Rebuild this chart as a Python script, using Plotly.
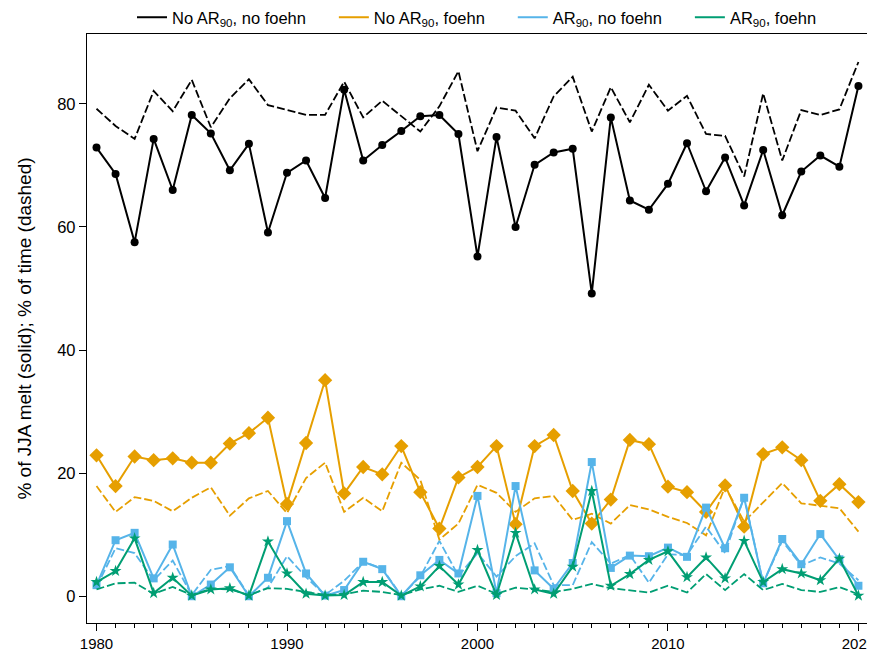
import plotly.graph_objs as go

# years on the x axis
years = list(range(1980, 2021))

# % of JJA melt (solid lines)
melt_noar_nofoehn = [72.9, 68.6, 57.5, 74.3, 66.0, 78.2, 75.2, 69.2, 73.5, 59.1,
                     68.8, 70.8, 64.7, 82.3, 70.8, 73.3, 75.6, 78.0, 78.2, 75.1,
                     55.2, 74.6, 60.0, 70.1, 72.1, 72.7, 49.2, 77.8, 64.3, 62.8,
                     67.0, 73.6, 65.8, 71.3, 63.5, 72.5, 61.9, 69.0, 71.6, 69.8,
                     82.9]
melt_noar_foehn = [22.9, 17.9, 22.7, 22.1, 22.4, 21.7, 21.7, 24.8, 26.5, 29.0,
                   15.0, 24.9, 35.1, 16.7, 21.0, 19.8, 24.4, 16.9, 11.0, 19.3,
                   21.0, 24.4, 11.7, 24.4, 26.2, 17.1, 11.8, 15.7, 25.4, 24.7,
                   17.8, 16.9, 13.7, 18.0, 11.3, 23.1, 24.2, 22.1, 15.5, 18.2,
                   15.3]
melt_ar_nofoehn = [1.8, 9.1, 10.3, 2.9, 8.4, 0.0, 1.9, 4.7, 0.0, 3.0,
                   12.2, 3.7, 0.1, 1.0, 5.6, 4.4, 0.0, 3.4, 5.9, 3.7,
                   16.3, 0.5, 17.9, 4.2, 1.2, 5.4, 21.8, 4.6, 6.6, 6.5,
                   7.9, 6.4, 14.4, 7.8, 16.0, 2.1, 9.3, 5.2, 10.1, 6.0,
                   1.7]
melt_ar_foehn = [2.3, 4.1, 9.4, 0.5, 3.0, 0.1, 1.1, 1.3, 0.1, 8.9,
                 3.7, 0.4, 0.1, 0.2, 2.3, 2.3, 0.1, 1.6, 4.9, 1.9,
                 7.5, 0.2, 10.3, 1.1, 0.4, 4.8, 17.1, 1.7, 3.6, 5.9,
                 7.3, 3.1, 6.3, 2.9, 9.0, 2.3, 4.4, 3.7, 2.6, 6.1,
                 0.1]

# % of time (dashed lines)
time_noar_nofoehn = [79.2, 76.4, 74.3, 82.1, 78.8, 83.9, 76.2, 80.9, 84.0, 79.8,
                     79.0, 78.2, 78.2, 83.6, 77.8, 80.5, 78.0, 75.5, 79.6, 85.3,
                     72.3, 79.4, 78.9, 74.4, 81.2, 84.4, 75.5, 82.7, 77.0, 83.1,
                     78.9, 81.3, 75.1, 74.8, 68.2, 81.7, 70.8, 79.0, 78.2, 79.1,
                     86.8]
time_noar_foehn = [17.9, 13.7, 16.1, 15.5, 13.8, 16.0, 17.7, 13.1, 15.9, 17.1,
                   13.5, 19.2, 21.7, 13.7, 16.0, 13.8, 21.7, 18.9, 9.2, 11.8,
                   18.1, 16.8, 13.7, 15.9, 16.3, 12.4, 13.4, 11.8, 14.8, 14.1,
                   12.9, 11.9, 9.9, 17.8, 12.1, 15.3, 18.4, 15.1, 14.7, 14.3,
                   10.5]
time_ar_nofoehn = [1.5, 7.8, 7.0, 2.6, 5.8, 0.2, 4.3, 4.9, 0.1, 1.4,
                   6.5, 3.1, 0.2, 2.5, 5.6, 4.5, 0.1, 3.2, 9.0, 3.3,
                   7.0, 3.2, 6.5, 8.6, 1.8, 1.8, 8.8, 5.3, 6.7, 2.2,
                   6.8, 6.7, 11.3, 7.0, 16.2, 2.1, 9.0, 5.0, 6.3, 5.3,
                   2.6]
time_ar_foehn = [1.1, 2.1, 2.2, 0.4, 1.5, 0.2, 1.2, 1.1, 0.2, 1.3,
                 1.2, 0.7, 0.2, 0.3, 0.9, 0.7, 0.2, 1.1, 1.7, 0.7,
                 1.7, 0.4, 1.4, 1.1, 0.7, 1.2, 2.0, 1.3, 1.0, 0.6,
                 1.7, 0.6, 3.6, 1.0, 3.6, 1.0, 2.0, 1.0, 0.7, 1.5,
                 0.3]

labels = ["No AR<sub>90</sub>, no foehn", "No AR<sub>90</sub>, foehn",
          "AR<sub>90</sub>, no foehn", "AR<sub>90</sub>, foehn"]
colors = ["black", "#E69F00", "#56B4E9", "#009E73"]
symbols = ["circle", "diamond", "square", "star"]
msizes = [8, 11, 8, 9]
melt = [melt_noar_nofoehn, melt_noar_foehn, melt_ar_nofoehn, melt_ar_foehn]
time = [time_noar_nofoehn, time_noar_foehn, time_ar_nofoehn, time_ar_foehn]

fig = go.Figure()

# legend entries (line only, no markers); nbsp padding widens the gaps
pad = "\u00a0" * 5
for i, (lab, col) in enumerate(zip(labels, colors)):
    name = lab + (pad if i < 3 else "")
    fig.add_trace(go.Scatter(x=[None], y=[None], mode="lines", name=name,
                             line=dict(color=col, width=2)))

for i in range(4):
    fig.add_trace(go.Scatter(x=years, y=melt[i], mode="lines+markers",
                             line=dict(color=colors[i], width=2),
                             marker=dict(symbol=symbols[i], size=msizes[i],
                                         color=colors[i], line=dict(width=0)),
                             showlegend=False))
    fig.add_trace(go.Scatter(x=years, y=time[i], mode="lines",
                             line=dict(color=colors[i], width=1.8, dash="8px,3px"),
                             showlegend=False))

# page body has an 8px margin, so the figure is 8px smaller than the window
fig.update_layout(
    width=867, height=645,
    margin=dict(l=79, r=8, t=26, b=30, autoexpand=False),
    plot_bgcolor="white", paper_bgcolor="white",
    font=dict(family="Liberation Sans, Arial", size=16.5, color="black"),
    legend=dict(orientation="h", x=0.5, xanchor="center",
                y=1.0577, yanchor="top",
                font=dict(size=16.5), itemwidth=30, tracegroupgap=0,
                bgcolor="rgba(0,0,0,0)"),
)

fig.update_xaxes(
    range=[1979.5, 2020.45], showgrid=False, zeroline=False,
    showline=True, linecolor="black", linewidth=1.3, mirror=True,
    ticks="outside", ticklen=7, tickwidth=1.2, tickcolor="black",
    tickmode="array", tickvals=[1980, 1990, 2000, 2010, 2020],
    tickfont=dict(size=15), ticklabeloverflow="allow",
    minor=dict(dtick=1, tick0=1980, ticks="outside", ticklen=4, tickcolor="black", tickwidth=1),
)
fig.update_yaxes(
    range=[-4.35, 91.35], showgrid=False, zeroline=False,
    showline=True, linecolor="black", linewidth=1.3, mirror=True,
    ticks="outside", ticklen=7, tickwidth=1.2, tickcolor="black",
    tickvals=[0, 20, 40, 60, 80],
    title=dict(text="% of JJA melt (solid); % of time (dashed)", standoff=20,
               font=dict(size=19)),
)

fig.write_html("out.html")
